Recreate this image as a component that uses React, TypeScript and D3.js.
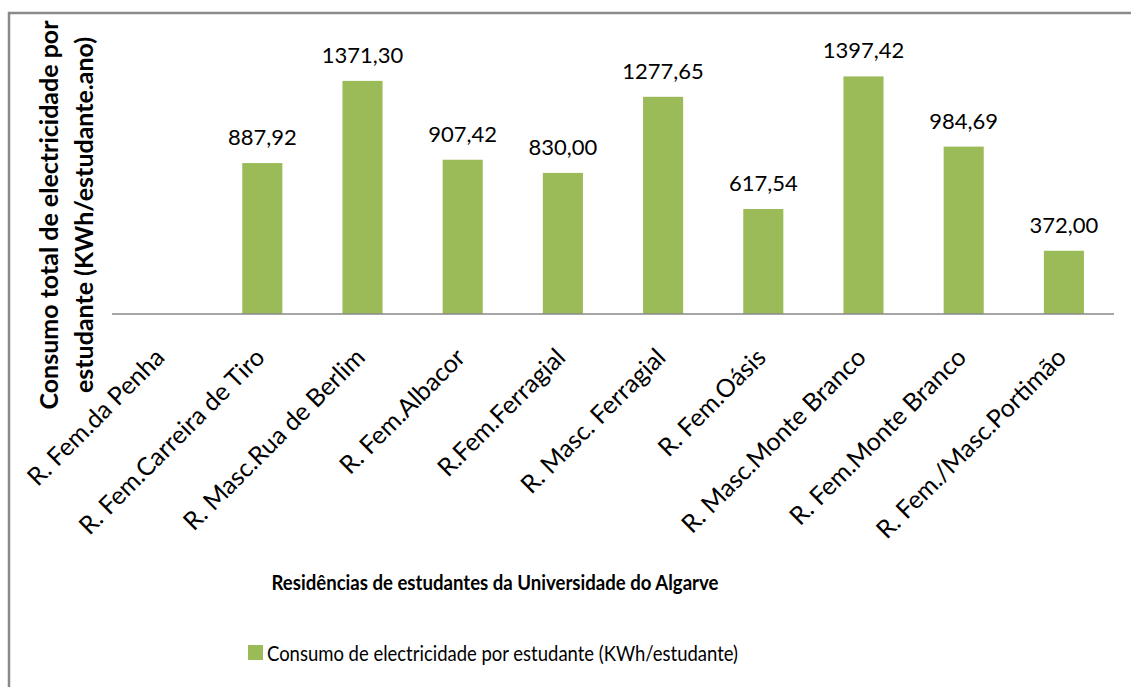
import * as d3 from 'd3';

const residences = [
    'R. Fem.da Penha',
    'R. Fem.Carreira de Tiro',
    'R. Masc.Rua de Berlim',
    'R. Fem.Albacor',
    'R.Fem.Ferragial',
    'R. Masc. Ferragial',
    'R. Fem.Oásis',
    'R. Masc.Monte Branco',
    'R. Fem.Monte Branco',
    'R. Fem./Masc.Portimão',
];
// first residence has no value in the source chart
const consumption: (number | null)[] = [null, 887.92, 1371.3, 907.42, 830.0, 1277.65, 617.54, 1397.42, 984.69, 372.0];

const yTitleLines = ['Consumo total de electricidade por', 'estudante (KWh/estudante.ano)'];
const xTitle = 'Residências de estudantes da Universidade do Algarve';
const legendLabel = 'Consumo de electricidade por estudante (KWh/estudante)';

const width = 1131;
const height = 687;
const marginLeft = 112;
const plotRight = 1114;
const baseY = 314;
const topY = 42;
const barColor = '#9BBB59';
const font = 'Lato, "Open Sans", sans-serif';

const fmt = (v: number) => v.toFixed(2).replace('.', ',');

export default function App() {
    const x = d3.scaleBand<string>()
        .domain(residences)
        .range([marginLeft, plotRight])
        .paddingInner(0.6)
        .paddingOuter(0.3);
    const y = d3.scaleLinear().domain([0, 1600]).range([baseY, topY]);

    const bars = residences.map((name, i) => {
        const v = consumption[i];
        if (v == null) return null;
        const bx = x(name) || 0;
        return (
            <g key={name}>
                <rect x={bx} y={y(v)} width={x.bandwidth()} height={baseY - y(v)} fill={barColor} />
                <text x={bx + x.bandwidth() / 2} y={y(v) - 18} textAnchor="middle"
                    style={{ font: `22px ${font}`, fill: '#000' }}>
                    {fmt(v)}
                </text>
            </g>
        );
    });

    // category labels, rotated -45
    const xLabels = residences.map((name) => {
        const cx = (x(name) || 0) + x.bandwidth() / 2;
        return (
            <text key={name} transform={`translate(${cx + 4}, ${baseY + 45}) rotate(-45)`}
                textAnchor="end" style={{ font: `25px ${font}`, fill: '#000' }}>
                {name}
            </text>
        );
    });

    return (
        <svg width={width} height={height} style={{ position: 'absolute', left: 0, top: 0, background: '#fff' }}>
            <rect x={9} y={13} width={width} height={height} fill="none" stroke="#8a8a8a" strokeWidth={2.5} />
            {bars}
            <line x1={marginLeft} x2={plotRight} y1={baseY} y2={baseY} stroke="#888" strokeWidth={1.5} />
            {xLabels}
            <g transform="translate(0, 215) rotate(-90)">
                {yTitleLines.map((line, i) => (
                    <text key={line} x={0} y={58 + i * 35} textAnchor="middle"
                        style={{ font: `bold 25px ${font}`, fill: '#000' }}>
                        {line}
                    </text>
                ))}
            </g>
            <text x={495} y={590} textAnchor="middle" textLength={447} lengthAdjust="spacingAndGlyphs"
                style={{ font: `bold 21px ${font}`, fill: '#000' }}>
                {xTitle}
            </text>
            <rect x={248} y={645} width={15} height={15} fill={barColor} />
            <text x={267} y={661} textLength={471} lengthAdjust="spacingAndGlyphs"
                style={{ font: `21px ${font}`, fill: '#000' }}>
                {legendLabel}
            </text>
        </svg>
    );
}
